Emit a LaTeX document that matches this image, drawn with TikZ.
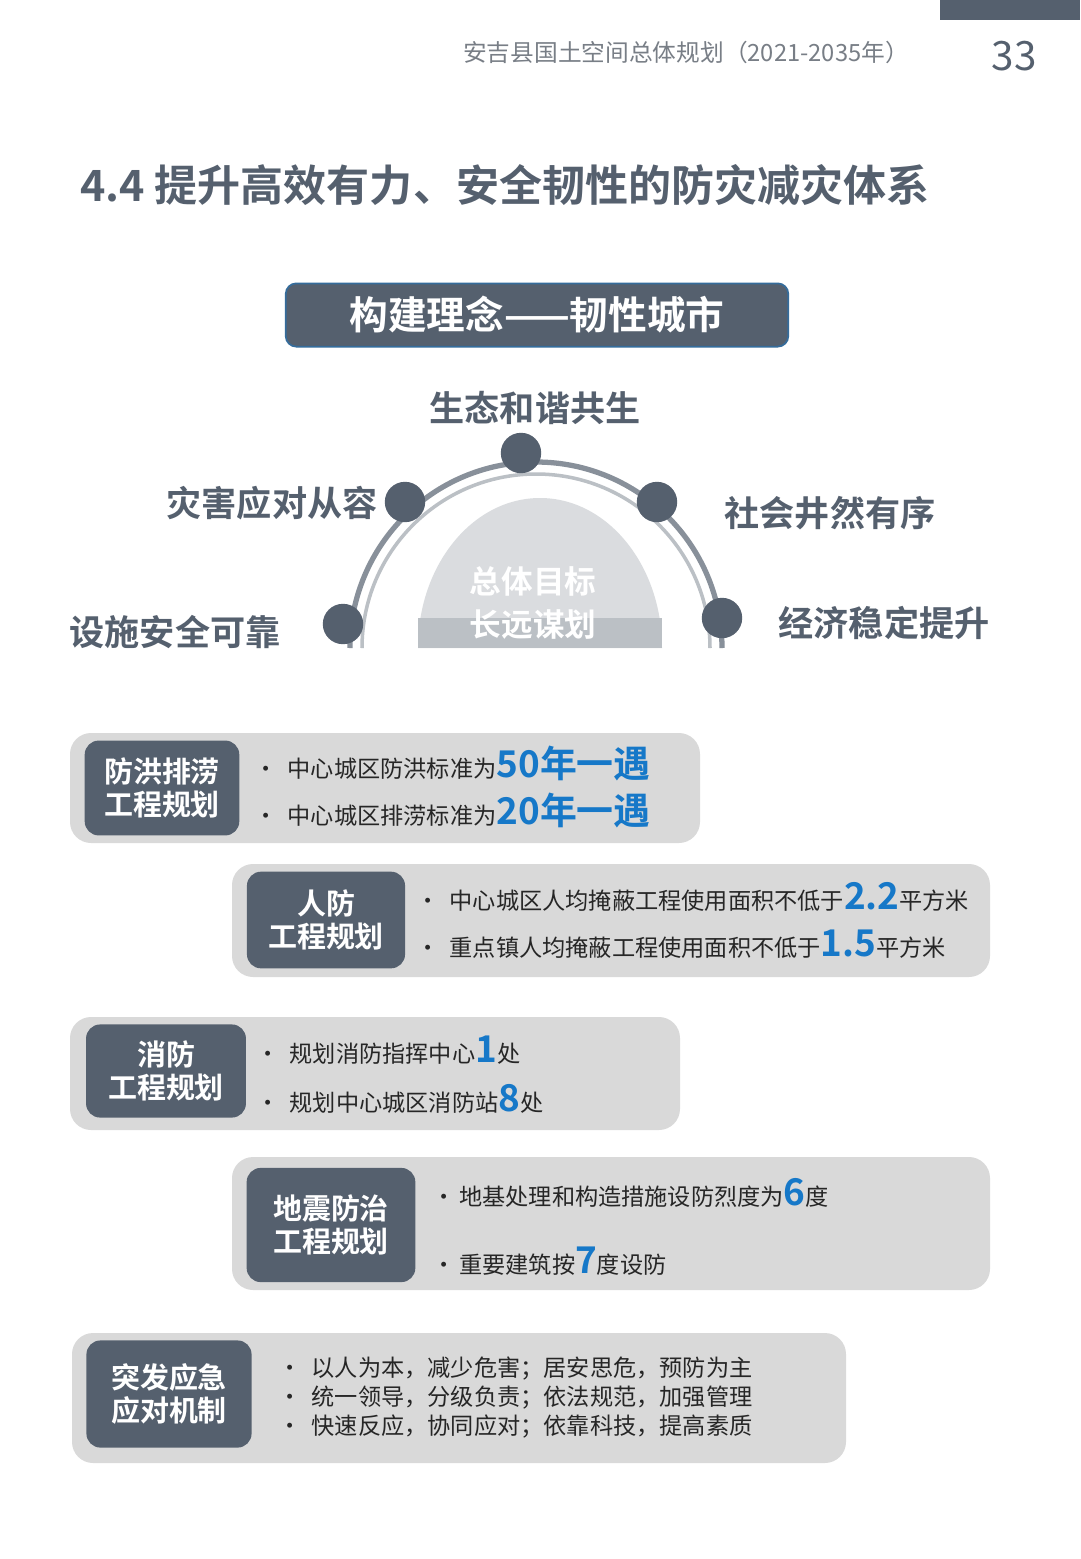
\documentclass[tikz,border=0pt]{standalone}
\usepackage{fontspec}
\setmainfont{Noto Sans CJK SC}[BoldFont={Noto Sans CJK SC Bold}]
\usetikzlibrary{positioning}
\definecolor{slate}{RGB}{85,96,110}
\definecolor{panelgray}{RGB}{217,217,217}
\definecolor{numblue}{RGB}{22,120,200}
\definecolor{headgray}{RGB}{120,126,134}
\tikzset{
  panel/.style={fill=panelgray,rounded corners=12pt,draw=none},
  tag/.style={fill=slate,rounded corners=8pt,text=white,font=\fontsize{16.5}{19}\selectfont\bfseries,align=center},
  bul/.style={anchor=west,font=\fontsize{13.2}{15}\selectfont,text=black!85},
  goal/.style={font=\fontsize{20}{22}\selectfont\bfseries,text=slate},
  dot/.style={circle,fill=slate,minimum size=23pt,inner sep=0pt}
}
\newcommand{\bign}[1]{{\fontsize{21}{21}\selectfont\bfseries\color{numblue}#1}}
\begin{document}
\begin{tikzpicture}[x=0.02cm,y=-0.02cm]
\useasboundingbox[fill=white] (0,0) rectangle (1080,1559);
% header
\fill[slate] (940,0) rectangle (1080,20);
\node[text=headgray,font=\fontsize{13.5}{15}\selectfont] (head) at (686,52) {安吉县国土空间总体规划（2021-2035年）};
\node[text=slate,font=\fontsize{23}{24}\selectfont] (page) at (1014,56) {33};
% title
\node[anchor=west,text=slate,font=\fontsize{24.5}{28}\selectfont\bfseries] (title) at (74,185) {4.4 提升高效有力、安全韧性的防灾减灾体系};
% concept banner
\node[fill=slate,draw=numblue!50!slate,line width=1pt,rounded corners=6pt,minimum width=286pt,minimum height=36pt,text=white,font=\fontsize{22}{24}\selectfont\bfseries] (idea) at (537,315) {构建理念——韧性城市};
% arc
\fill[slate!22] (418,648) arc[start angle=180,end angle=360,x radius=122,y radius=150] -- cycle;
\fill[slate!40] (418,648) rectangle (662,618);
\draw[slate!70,line width=3pt] (350,648) arc[start angle=180,end angle=360,radius=186];
\draw[slate!40,line width=2pt] (362,648) arc[start angle=180,end angle=360,radius=174];
\node[text=white,font=\fontsize{18}{24}\selectfont\bfseries,align=center] (core) at (533,603) {总体目标\\长远谋划};
\node[dot] (d1) at (343,624) {};
\node[dot] (d2) at (405,502) {};
\node[dot] (d3) at (521,453) {};
\node[dot] (d4) at (657,502) {};
\node[dot] (d5) at (722,618) {};
\node[goal] (g1) at (175,632) {设施安全可靠};
\node[goal] (g2) at (272,503) {灾害应对从容};
\node[goal] (g3) at (535,408) {生态和谐共生};
\node[goal] (g4) at (830,513) {社会井然有序};
\node[goal] (g5) at (884,623) {经济稳定提升};
% flood
\fill[panel] (70,733) rectangle (700,843);
\node[tag,minimum width=88pt,minimum height=54pt] (flood) at (162,788) {防洪排涝\\工程规划};
\node[bul] (f1) at (248,763) {•\ \ 中心城区防洪标准为\bign{50年一遇}};
\node[bul] (f2) at (248,810) {•\ \ 中心城区排涝标准为\bign{20年一遇}};
% civil defence
\fill[panel] (232,864) rectangle (990,977);
\node[tag,minimum width=90pt,minimum height=55pt] (civil) at (326,920) {人防\\工程规划};
\node[bul] (c1) at (410,897) {•\ \ 中心城区人均掩蔽工程使用面积不低于\bign{2.2}平方米};
\node[bul] (c2) at (410,944) {•\ \ 重点镇人均掩蔽工程使用面积不低于\bign{1.5}平方米};
% fire
\fill[panel] (70,1017) rectangle (680,1130);
\node[tag,minimum width=91pt,minimum height=53pt] (fire) at (166,1071) {消防\\工程规划};
\node[bul] (r1) at (250,1050) {•\ \ 规划消防指挥中心\bign{1}处};
\node[bul] (r2) at (250,1099) {•\ \ 规划中心城区消防站\bign{8}处};
% quake
\fill[panel] (232,1157) rectangle (990,1290);
\node[tag,minimum width=96pt,minimum height=65pt] (quake) at (331,1225) {地震防治\\工程规划};
\node[bul] (q1) at (426,1193) {•\,地基处理和构造措施设防烈度为\bign{6}度};
\node[bul] (q2) at (426,1261) {•\,重要建筑按\bign{7}度设防};
% emergency
\fill[panel] (72,1333) rectangle (846,1463);
\node[tag,minimum width=94pt,minimum height=61pt] (emerg) at (169,1394) {突发应急\\应对机制};
\node[bul] (e1) at (272,1369) {•\ \ 以人为本，减少危害；居安思危，预防为主};
\node[bul] (e2) at (272,1398) {•\ \ 统一领导，分级负责；依法规范，加强管理};
\node[bul] (e3) at (272,1427) {•\ \ 快速反应，协同应对；依靠科技，提高素质};
\end{tikzpicture}
\end{document}
